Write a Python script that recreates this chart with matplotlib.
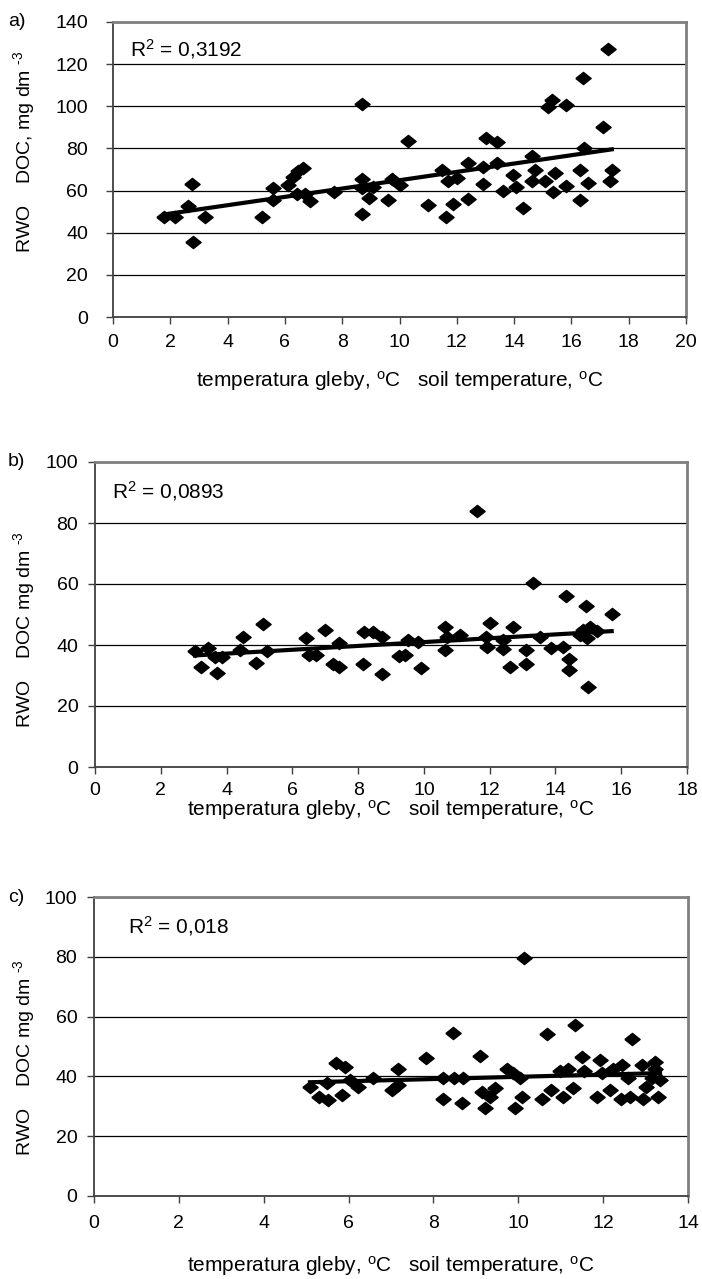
import numpy as np
import matplotlib.pyplot as plt

plt.rcParams['font.family'] = ['Liberation Sans', 'DejaVu Sans']
plt.rcParams['mathtext.fontset'] = 'custom'
plt.rcParams['mathtext.rm'] = 'Liberation Sans'
plt.rcParams['mathtext.default'] = 'regular'

# dane
a_temp = [1.78, 2.16, 2.63, 2.77, 2.80, 3.21, 5.19, 5.60, 5.60, 6.12, 6.29, 6.47, 6.62, 6.41, 6.70, 6.88,
          7.71, 8.70, 8.70, 8.70, 8.70, 8.95, 9.09, 9.61, 9.73, 10.02, 10.31, 11.0, 11.47, 11.61, 11.70,
          11.88, 12.02, 12.40, 12.40, 12.90, 12.93, 13.01, 13.39, 13.41, 13.60, 13.97, 14.07, 14.30, 14.61,
          14.61, 14.73, 15.08, 15.20, 15.31, 15.37, 15.43, 15.81, 15.81, 16.30, 16.30, 16.42, 16.44, 16.59,
          17.11, 17.29, 17.35, 17.41]
a_doc = [47.3, 47.3, 52.8, 63.0, 35.7, 47.3, 47.3, 61.4, 55.5, 62.6, 66.6, 69.4, 70.6, 58.2, 58.2, 55.1,
         59.5, 101.0, 65.3, 48.7, 61.0, 56.3, 61.8, 55.5, 65.3, 62.6, 83.7, 53.2, 69.8, 47.3, 64.7,
         53.6, 65.8, 72.9, 56.0, 71.4, 63.0, 84.8, 83.2, 72.9, 59.8, 67.4, 61.8, 51.9, 76.6,
         64.5, 69.8, 64.5, 99.8, 103.0, 59.5, 68.2, 100.6, 62.3, 55.5, 69.8, 113.6, 80.4, 63.4,
         90.3, 127.0, 64.5, 69.8]

b_temp = [3.04, 3.21, 3.43, 3.65, 3.72, 3.85, 4.41, 4.51, 4.90, 5.10, 5.22, 6.42, 6.52, 6.72, 6.99, 7.25,
          7.43, 7.43, 8.14, 8.19, 8.44, 8.72, 8.72, 9.25, 9.43, 9.53, 9.83, 9.90, 10.64, 10.64, 10.69,
          11.10, 11.60, 11.89, 12.01, 11.91, 12.41, 12.41, 12.62, 12.72, 13.09, 13.09, 13.31, 13.53, 13.88,
          14.22, 14.32, 14.42, 14.42, 14.75, 14.85, 14.93, 15.00, 15.05, 15.25, 15.71, 14.95]
b_doc = [38.0, 32.9, 39.1, 36.0, 30.7, 36.0, 38.4, 42.5, 34.2, 46.9, 38.0, 42.2, 36.7, 36.7, 44.9, 33.7,
         32.9, 40.6, 33.8, 44.2, 44.2, 42.7, 30.4, 36.4, 36.7, 41.6, 41.1, 32.4, 46.0, 38.4, 42.7,
         43.3, 83.9, 42.7, 47.1, 39.5, 41.6, 38.6, 32.9, 46.0, 38.4, 33.8, 60.4, 42.7, 39.1,
         39.5, 56.1, 35.3, 31.8, 43.3, 44.9, 52.8, 26.3, 46.0, 44.7, 50.1, 42.2]

c_temp = [5.09, 5.31, 5.48, 5.52, 5.70, 5.84, 5.92, 6.03, 6.23, 6.58, 7.02, 7.17, 7.17, 7.82, 8.22, 8.22,
          8.45, 8.49, 8.67, 8.70, 9.10, 9.14, 9.22, 9.33, 9.45, 9.73, 9.88, 9.92, 10.04, 10.08, 10.14,
          10.55, 10.67, 10.76, 10.98, 11.06, 11.18, 11.28, 11.34, 11.49, 11.55, 11.85, 11.93, 11.97, 12.16,
          12.24, 12.41, 12.44, 12.59, 12.63, 12.67, 12.91, 12.95, 13.02, 13.14, 13.22, 13.22, 13.30, 13.34]
c_doc = [36.3, 33.2, 37.7, 32.1, 44.4, 33.8, 43.2, 38.8, 36.6, 39.4, 35.5, 42.4, 37.1, 46.0, 39.4, 32.3,
         54.4, 39.4, 31.2, 39.4, 46.8, 34.9, 29.3, 33.2, 36.0, 42.4, 41.0, 29.3, 39.4, 33.2, 79.6,
         32.3, 54.2, 35.5, 41.9, 33.2, 42.4, 36.0, 57.1, 46.6, 41.9, 33.2, 45.4, 41.0, 35.6,
         42.4, 32.3, 43.8, 39.4, 33.2, 52.6, 43.8, 32.3, 36.6, 39.4, 44.8, 42.6, 33.2, 38.8]

r2_labels = ['R$^2$ = 0,3192', 'R$^2$ = 0,0893', 'R$^2$ = 0,018']
panel_tags = ['a)', 'b)', 'c)']
ylabels = ['RWO    DOC, mg dm $^{\u2010 3}$', 'RWO    DOC mg dm $^{\u2010 3}$', 'RWO    DOC mg dm $^{\u2010 3}$']
xlabel = 'temperatura gleby, $^{o}$C   soil temperature, $^{o}$C'
xlims = [20, 18, 14]
ylims = [140, 100, 100]

W, H = 702, 1279
fig = plt.figure(figsize=(W / 100, H / 100), dpi=100)
fig.set_facecolor('white')

# pozycje w pikselach
boxes = [(113, 22, 686, 317), (95, 462, 687, 767), (94, 897, 688, 1196)]
r2_pos = [(130, 49), (112, 491), (128, 926)]
xlab_y = [381, 810, 1266]
ylab_y = [152, 630, 1058]
ypads = [13, 7, 7]
xpads = [7, 6, 9]

# romb troche szerszy niz wyzszy (jak w oryginale)
diamond = [(-1.25, 0), (0, 1), (1.25, 0), (0, -1), (-1.25, 0)]

data = [(a_temp, a_doc), (b_temp, b_doc), (c_temp, c_doc)]

for i in range(3):
    l, t, r, b = boxes[i]
    ax = fig.add_axes([l / W, 1 - b / H, (r - l) / W, (b - t) / H])
    x = np.array(data[i][0])
    y = np.array(data[i][1])
    ax.plot(x, y, linestyle='none', marker=diamond, color='black', markersize=11, zorder=3)
    k, c0 = np.polyfit(x, y, 1)
    xx = np.array([x.min(), x.max()])
    ax.plot(xx, k * xx + c0, color='black', lw=3, zorder=4)

    ax.set_xlim(0, xlims[i])
    ax.set_ylim(0, ylims[i])
    ax.set_xticks(np.arange(0, xlims[i] + 1, 2))
    ax.set_yticks(np.arange(0, ylims[i] + 1, 20))
    ax.grid(axis='y', color='black', lw=0.9)
    ax.set_axisbelow(True)
    for s in ['top', 'right']:
        ax.spines[s].set_color('#808080')
        ax.spines[s].set_linewidth(2)
    for s in ['left', 'bottom']:
        ax.spines[s].set_color('#404040')
        ax.spines[s].set_linewidth(1.3)
    ax.tick_params(direction='out', length=5, width=1, labelsize=14, color='#404040')
    ax.tick_params(axis='y', pad=ypads[i])
    ax.tick_params(axis='x', pad=xpads[i])

    ax.text(r2_pos[i][0], H - r2_pos[i][1], r2_labels[i], transform=None, fontsize=15,
            va='center', ha='left')
    fig.text(8 / W, 1 - t / H, panel_tags[i], fontsize=14, va='center', ha='left')
    fig.text(0.5 * (l + r) / W, 1 - xlab_y[i] / H, xlabel, fontsize=15, ha='center', va='center')
    fig.text(24 / W, 1 - ylab_y[i] / H, ylabels[i], fontsize=14, rotation=90,
             ha='center', va='center')

plt.savefig('out.png', dpi=100)
